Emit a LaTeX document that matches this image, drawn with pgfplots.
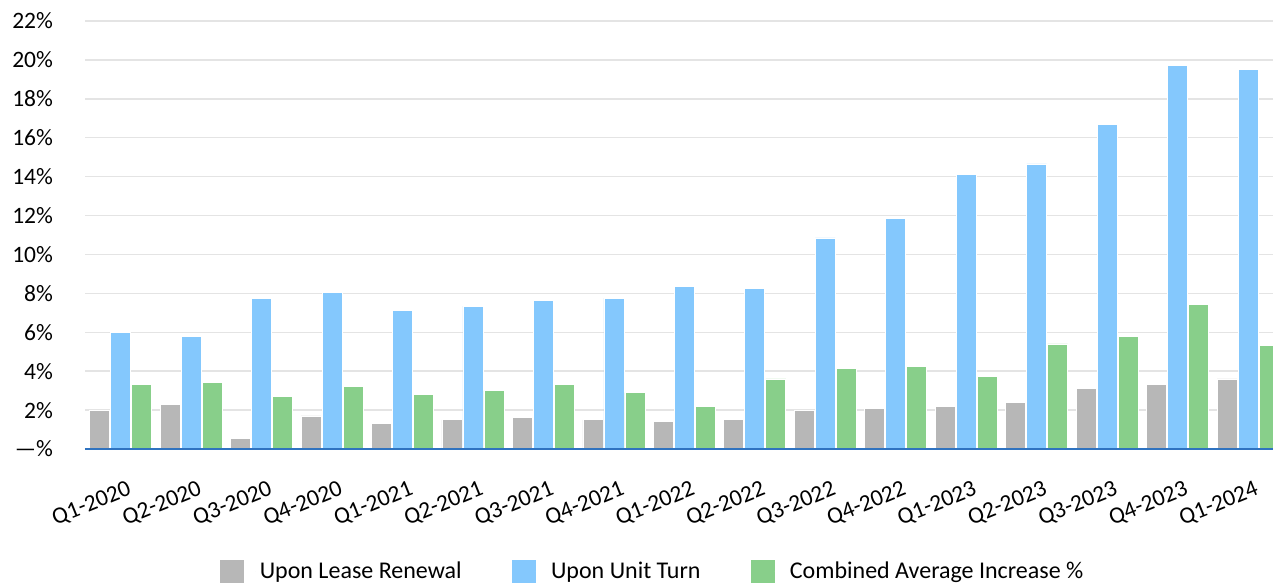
\documentclass[border=0pt]{standalone}
\usepackage{fontspec}
\setmainfont{Carlito}
\usepackage{pgfplots}
\pgfplotsset{compat=1.18}
\definecolor{renew}{HTML}{B7B7B7}
\definecolor{turn}{HTML}{84C8FD}
\definecolor{comb}{HTML}{88CF8A}
\definecolor{zeroline}{HTML}{2F73C0}
\definecolor{gridc}{HTML}{E4E4E4}
\newcommand\chartfont{\fontsize{11.75}{14}\selectfont}
\newcommand\legfont{\fontsize{12}{14}\selectfont}

\begin{document}
\begin{tikzpicture}
\begin{axis}[at={(0,0)},anchor=south west,scale only axis,width=594pt,height=214pt,
set layers,
xmin=-0.507,xmax=16.355,ymin=0,ymax=22,
ybar=0.5pt,bar width=10pt,
axis lines*=left,y axis line style={draw=none},x axis line style={draw=zeroline,line width=1pt},
tick style={draw=none},
ymajorgrids,major grid style={draw=gridc,line width=0.75pt},
ytick={0,2,...,22},yticklabels={—\%,2\%,4\%,6\%,8\%,10\%,12\%,14\%,16\%,18\%,20\%,22\%},
yticklabel style={font=\chartfont,anchor=east,xshift=-12.5pt},
xtick={0,...,16},
xticklabels={Q1-2020,Q2-2020,Q3-2020,Q4-2020,Q1-2021,Q2-2021,Q3-2021,Q4-2021,Q1-2022,Q2-2022,Q3-2022,Q4-2022,Q1-2023,Q2-2023,Q3-2023,Q4-2023,Q1-2024},
xticklabel style={font=\chartfont,rotate=22,anchor=north east,yshift=-8pt,xshift=2pt},
legend style={draw=none,fill=none,at={(0.1086,-0.287)},anchor=west,legend columns=3,font=\legfont,
/tikz/every even column/.append style={column sep=23pt}},
legend cell align=left,
legend image code/.code={\fill[#1,draw=none] (0pt,-6pt) rectangle (12pt,6pt);\path (12pt,0pt) -- (17.5pt,0pt);},
every axis plot/.append style={draw=white,line width=0.4pt,/pgfplots/on layer=axis ticks}]
\addplot[fill=renew] coordinates {(0,2.0) (1,2.3) (2,0.55) (3,1.7) (4,1.3) (5,1.5) (6,1.6) (7,1.5) (8,1.4) (9,1.5) (10,2.0) (11,2.1) (12,2.2) (13,2.4) (14,3.1) (15,3.3) (16,3.6)};
\addlegendentry{Upon Lease Renewal}
\addplot[fill=turn] coordinates {(0,6.0) (1,5.8) (2,7.75) (3,8.05) (4,7.1) (5,7.35) (6,7.65) (7,7.75) (8,8.35) (9,8.25) (10,10.85) (11,11.85) (12,14.1) (13,14.65) (14,16.7) (15,19.7) (16,19.5)};
\addlegendentry{Upon Unit Turn}
\addplot[fill=comb] coordinates {(0,3.3) (1,3.4) (2,2.7) (3,3.2) (4,2.8) (5,3.0) (6,3.3) (7,2.9) (8,2.2) (9,3.6) (10,4.15) (11,4.25) (12,3.75) (13,5.4) (14,5.8) (15,7.45) (16,5.3)};
\addlegendentry{Combined Average Increase \%}
\end{axis}
\pgfresetboundingbox
\useasboundingbox (-42.5pt,-67pt) rectangle (594pt,224.5pt);
\end{tikzpicture}
\end{document}
